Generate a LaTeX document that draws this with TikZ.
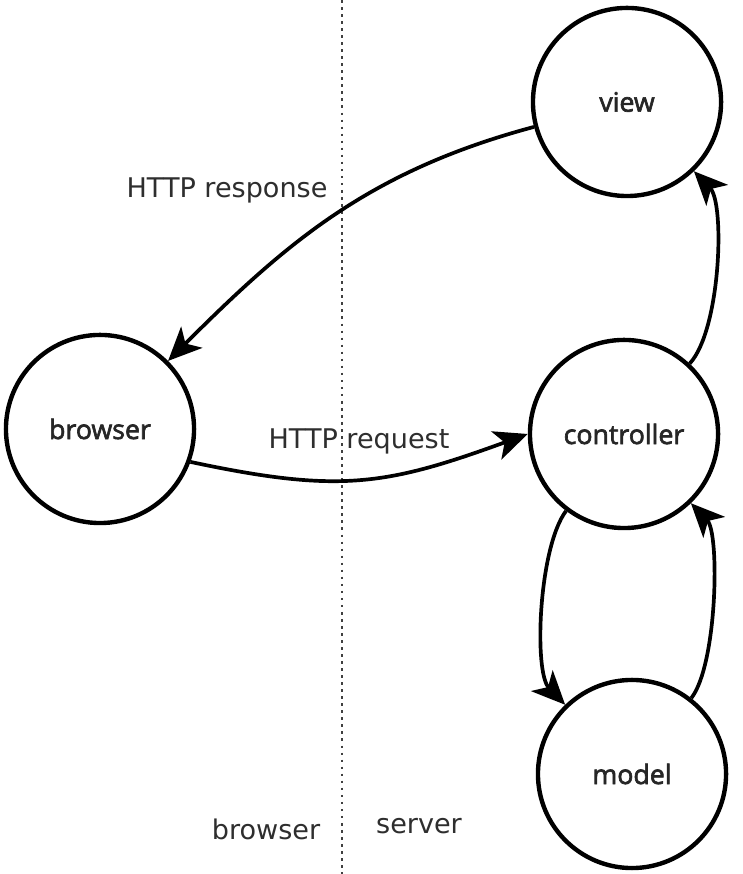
\documentclass[tikz,border=0pt]{standalone}
\usepackage{fontspec}
\setmainfont{DejaVu Sans}
\newfontfamily\circfont[FakeBold=2.4]{Open Sans}
\usetikzlibrary{arrows.meta}
\tikzset{l/.style={font=\fontsize{7.7}{8}\selectfont, text=black!82}}
\tikzset{circ/.style={circle, draw, line width=1.25pt, minimum size=1.88cm, inner sep=0pt,
    font=\circfont\fontsize{7.6}{8}\selectfont, text=black!85}}

\begin{document}
\begin{tikzpicture}[x=0.01cm, y=0.01cm, line width=1.05pt,
    >={Stealth[length=9.5pt, width=8.5pt, inset=2.5pt]}]
    \useasboundingbox (0,0) rectangle (742,874);
    % the border between the two sides
    \coordinate (top) at (342,874);
    \coordinate (bottom) at (342,0);
    \draw [black!75, line width=.75pt, dash pattern=on .75pt off 1.25pt] (top) -- (bottom);
    \node [l] (browserside) at (266,45) {browser};
    \node [l] (serverside) at (419,48) {server};
    \node [circ] (browser) at (100,445) {browser};
    \node [circ] (view) at (627,772) {view}
      edge [->, out=195, in=45] (browser);
    \node [circ] (controller) at (624,440) {controller}
      edge [->, out=47, in=-46, looseness=.6] (view);
    \node [circ] (model) at (632,100) {model}
      edge [<-, out=134, in=-127, looseness=.6] (controller)
      edge [->, out=52, in=-46, looseness=.55] (controller);
    \draw [->] (browser.-20) to [out=-12, in=200, looseness=1.15] (controller.west);
    \node [l] (response) at (227,684) {HTTP response};
    \node [l] (request) at (359,433) {HTTP request};
  \end{tikzpicture}
\end{document}
